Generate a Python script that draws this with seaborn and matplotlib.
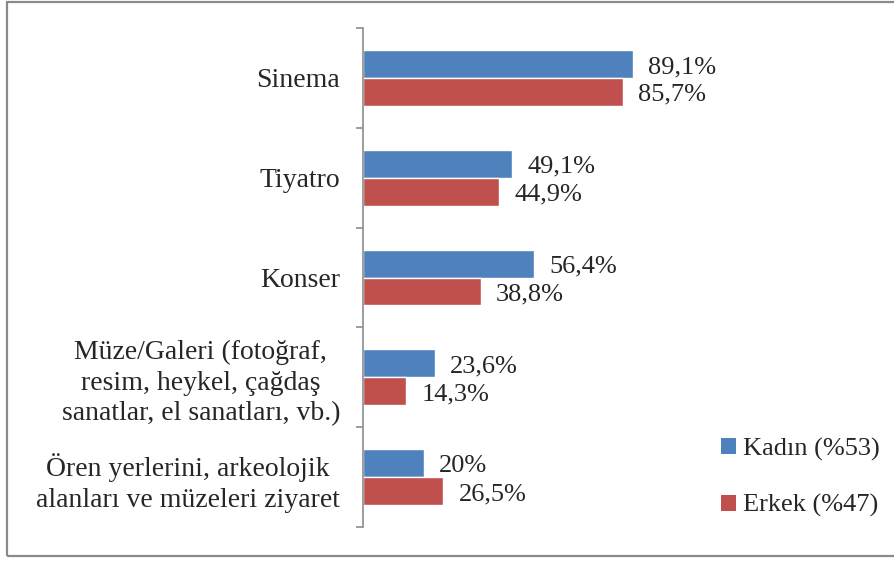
import matplotlib
matplotlib.use("Agg")
import matplotlib.pyplot as plt
from matplotlib.patches import Patch, Rectangle
from matplotlib.ticker import FixedLocator
import seaborn as sns
import pandas as pd

# Activity categories and participation shares (%) by gender
categories = [
    "Sinema",
    "Tiyatro",
    "Konser",
    "Müze/Galeri (fotoğraf,\nresim, heykel, çağdaş\nsanatlar, el sanatları, vb.)",
    "Ören yerlerini, arkeolojik\nalanları ve müzeleri ziyaret",
]
groups = ["Kadın (%53)", "Erkek (%47)"]
kadin = [89.1, 49.1, 56.4, 23.6, 20.0]
erkek = [85.7, 44.9, 38.8, 14.3, 26.5]
colors = ["#4F81BD", "#C0504D"]

df = pd.DataFrame({
    "kategori": categories * 2,
    "grup": [groups[0]] * len(categories) + [groups[1]] * len(categories),
    "oran": kadin + erkek,
})

sns.set_style("white")
plt.rcParams["font.family"] = ["Liberation Serif", "DejaVu Serif"]
FS = 19
FS_CAT = 20

fig = plt.figure(figsize=(8.95, 5.61), dpi=100)
W, H = 895, 561
left, right, top, bottom = 363 / W, 666 / W, 1 - 28 / H, 1 - 527 / H
ax = fig.add_axes([left, bottom, right - left, top - bottom])

sns.barplot(data=df, x="oran", y="kategori", hue="grup", order=categories,
            hue_order=groups, palette=colors, orient="h", width=0.56,
            saturation=1, errorbar=None, ax=ax, legend=False)

ax.set_xlim(0, 100)
ax.set_ylim(len(categories) - 0.5, -0.5)
ax.set_xlabel("")
ax.set_ylabel("")
ax.set_xticks([])

# value labels, comma as decimal separator
for cont, vals in zip(ax.containers, [kadin, erkek]):
    labels = [f"{v:g}".replace(".", ",") + "%" for v in vals]
    anns = ax.bar_label(cont, labels=labels, padding=11, fontsize=FS)
    for a in anns:
        a.xyann = (11, -2.2)

for s in ["top", "right", "bottom"]:
    ax.spines[s].set_visible(False)
ax.spines["left"].set_color("#8C8C8C")
ax.spines["left"].set_linewidth(1.2)

ax.tick_params(axis="y", which="major", left=False, length=0, pad=16.5,
               labelsize=FS_CAT)
ax.yaxis.set_minor_locator(FixedLocator([i - 0.5 for i in range(len(categories) + 1)]))
ax.tick_params(axis="y", which="minor", left=True, length=5, width=1.2,
               color="#8C8C8C", direction="out")
for lbl in ax.get_yticklabels():
    lbl.set_multialignment("center")
    lbl.set_linespacing(1.3)

handles = [Patch(facecolor=c, edgecolor="none") for c in colors]
fig.legend(handles, groups, loc="center left",
           bbox_to_anchor=(721 / W, 1 - 477.5 / H), frameon=False,
           fontsize=FS, handlelength=0.55, handleheight=0.55,
           handletextpad=0.3, labelspacing=1.27, borderpad=0, borderaxespad=0)

# outer chart border
fig.patches.append(Rectangle((7.5 / W, 1 - 556 / H), 1.0, 556 / H - 1.5 / H,
                             transform=fig.transFigure, fill=False,
                             edgecolor="#8A8A8A", linewidth=1.6, clip_on=False))

fig.savefig("out.png", dpi=100)
